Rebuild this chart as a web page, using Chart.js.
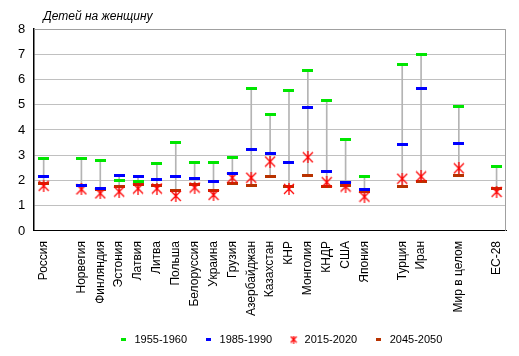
<!DOCTYPE html>
<html><head><meta charset="utf-8">
<script src="https://cdn.jsdelivr.net/npm/chart.js@4/dist/chart.umd.min.js"></script>
<style>html,body{margin:0;padding:0;background:#fff}#wrap{width:519px;height:356px}</style>
</head><body><div id="wrap"><canvas id="c" width="519" height="356"></canvas></div>
<script>
const categories = ['Россия','','Норвегия','Финляндия','Эстония','Латвия','Литва','Польша','Белоруссия','Украина','Грузия','Азербайджан','Казахстан','КНР','Монголия','КНДР','США','Япония','','Турция','Иран','','Мир в целом','','ЕС-28'];
const tfr1955 = [2.87,null,2.87,2.79,2.01,1.97,2.69,3.49,2.73,2.73,2.93,5.65,4.61,5.55,6.37,5.17,3.61,2.17,null,6.59,6.99,null,4.93,null,2.57];
const tfr1985 = [2.15,null,1.81,1.67,2.21,2.17,2.05,2.17,2.09,1.97,2.29,3.23,3.05,2.73,4.89,2.37,1.93,1.64,null,3.41,5.65,null,3.45,null,null];
const tfr2015 = [1.79,null,1.65,1.49,1.56,1.68,1.68,1.39,1.72,1.43,2.11,2.11,2.75,1.67,2.92,1.93,1.76,1.36,null,2.07,2.16,null,2.48,null,1.55];
const tfr2045 = [1.88,null,1.79,1.63,1.75,1.83,1.79,1.61,1.83,1.61,1.89,1.79,2.17,1.77,2.21,1.77,1.81,1.57,null,1.77,1.95,null,2.21,null,1.69];
const seriesNames = ['1955-1960','1985-1990','2015-2020','2045-2050'];
const yTicks = [0,1,2,3,4,5,6,7,8];

function dash(w,h,color){const c=document.createElement('canvas');c.width=w;c.height=h;const x=c.getContext('2d');x.fillStyle=color;x.fillRect(0,0,w,h);return c;}
function star(s,color,lw){const c=document.createElement('canvas');c.width=s;c.height=s;const x=c.getContext('2d');x.strokeStyle=color;x.lineWidth=lw;x.beginPath();
 x.moveTo(1,1);x.lineTo(s-1,s-1);x.moveTo(s-1,1);x.lineTo(1,s-1);x.moveTo(s/2,0);x.lineTo(s/2,s);x.stroke();return c;}

const GREEN='#00e600', BLUE='#0000ff', RED='#ff0000', BROWN='#b83200';
const mk = {g:dash(11,3,GREEN), b:dash(11,3,BLUE), r:star(12,RED,1.3), br:dash(11,3,BROWN)};
const lg = {g:dash(5,3,GREEN), b:dash(5,3,BLUE), r:star(8,RED,1.2), br:dash(5,3,BROWN)};

const ranges = categories.map((c,i)=>{const v=[tfr1955[i],tfr1985[i],tfr2015[i],tfr2045[i]].filter(x=>x!=null);return v.length?[Math.min(...v),Math.max(...v)]:null;});

function ptDs(label,data,img,legImg){return {type:'line',label,data,showLine:false,pointStyle:img,legImg,pointRadius:6,pointHoverRadius:6,order:1,backgroundColor:'transparent',borderColor:'transparent'};}

const framePlugin={id:'frame',
 afterLayout(ch){if(ch.legend){ch.legend.left+=10;ch.legend.right+=10;}},
 beforeDatasetsDraw(ch){const a=ch.chartArea,x=ch.ctx;x.save();x.strokeStyle='#a0a0a0';x.lineWidth=1;x.beginPath();x.moveTo(a.left,a.top+0.5);x.lineTo(a.right-0.5,a.top+0.5);x.lineTo(a.right-0.5,a.bottom);x.stroke();x.restore();},
 afterDraw(ch){const a=ch.chartArea,x=ch.ctx;x.save();x.font='italic 12px "Liberation Sans", Arial';x.fillStyle='#000';x.textBaseline='alphabetic';x.fillText('Детей на женщину',a.left+9,a.top-9);x.restore();}};

new Chart(document.getElementById('c'),{
 type:'bar',
 data:{labels:categories,datasets:[
  {type:'bar',label:'range',data:ranges,backgroundColor:'#b4b4b4',barThickness:1,order:10,grouped:false},
  ptDs(seriesNames[0],tfr1955,mk.g,lg.g),
  ptDs(seriesNames[1],tfr1985,mk.b,lg.b),
  ptDs(seriesNames[2],tfr2015,mk.r,lg.r),
  ptDs(seriesNames[3],tfr2045,mk.br,lg.br)
 ]},
 options:{responsive:false,animation:false,
  layout:{padding:{left:9,right:13,top:29,bottom:1}},
  font:{family:'"Liberation Sans", Arial'},
  plugins:{tooltip:{enabled:false},
   legend:{position:'bottom',fullSize:false,labels:{usePointStyle:true,color:'#000',font:{size:11,family:'"Liberation Sans", Arial'},padding:16,
    filter:(it)=>it.text!=='range',
    generateLabels:(ch)=>ch.data.datasets.map((d,i)=>({text:d.label,pointStyle:d.legImg||'rect',fillStyle:'transparent',strokeStyle:'transparent',lineWidth:0,datasetIndex:i,hidden:false,fontColor:'#000'}))}}},
  scales:{
   x:{grid:{display:false},border:{color:'#000',width:1},ticks:{autoSkip:false,minRotation:90,maxRotation:90,color:'#000',font:{size:12,family:'"Liberation Sans", Arial'},padding:2}},
   y:{min:0,max:8,afterBuildTicks:(s)=>{s.ticks=yTicks.map(v=>({value:v}));},grid:{color:'#c0c0c0',drawTicks:false},border:{color:'#000',width:1.5},ticks:{color:'#000',font:{size:13,family:'"Liberation Sans", Arial'},padding:9}}
  }},
 plugins:[framePlugin]
});
</script></body></html>
